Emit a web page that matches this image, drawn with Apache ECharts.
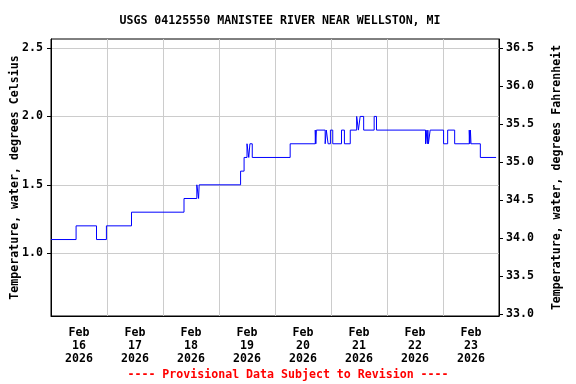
<!DOCTYPE html>
<html>
<head>
<meta charset="utf-8">
<script src="https://cdn.jsdelivr.net/npm/echarts@6/dist/echarts.min.js"></script>
<style>html,body{margin:0;padding:0;background:#fff;}#c{width:576px;height:384px;}</style>
</head>
<body>
<div id="c"></div>
<script>
const titleText = 'USGS 04125550 MANISTEE RIVER NEAR WELLSTON, MI';
const footerText = '---- Provisional Data Subject to Revision ----';
const leftAxisName = 'Temperature, water, degrees Celsius';
const rightAxisName = 'Temperature, water, degrees Fahrenheit';
const celsiusTicks = [1.0, 1.5, 2.0, 2.5];
const fahrenheitTicks = [33.0, 33.5, 34.0, 34.5, 35.0, 35.5, 36.0, 36.5];
const dateLabels = ['2026-02-16 12:00','2026-02-17 12:00','2026-02-18 12:00','2026-02-19 12:00',
  '2026-02-20 12:00','2026-02-21 12:00','2026-02-22 12:00','2026-02-23 12:00'];
const xStart = '2026-02-16 00:00';
const xEnd = '2026-02-24 00:00';
// change points: value holds from this time until the next
const times = [
  '2026-02-16 00:00','2026-02-16 10:45','2026-02-16 19:30','2026-02-16 23:45',
  '2026-02-17 10:30','2026-02-18 09:00','2026-02-18 14:30','2026-02-18 15:15',
  '2026-02-18 15:30','2026-02-19 09:15','2026-02-19 10:45','2026-02-19 12:00',
  '2026-02-19 12:45','2026-02-19 13:15','2026-02-19 14:15','2026-02-20 06:30',
  '2026-02-20 17:15','2026-02-20 17:30','2026-02-20 17:45','2026-02-20 21:30',
  '2026-02-20 22:00','2026-02-20 22:45','2026-02-20 23:45','2026-02-21 00:45',
  '2026-02-21 04:30','2026-02-21 05:45','2026-02-21 08:15','2026-02-21 11:00',
  '2026-02-21 11:45','2026-02-21 12:30','2026-02-21 14:00','2026-02-21 18:30',
  '2026-02-21 19:30','2026-02-22 16:30','2026-02-22 16:45','2026-02-22 17:15',
  '2026-02-22 17:30','2026-02-22 17:45','2026-02-22 18:30','2026-02-23 00:15',
  '2026-02-23 02:00','2026-02-23 05:00','2026-02-23 11:15','2026-02-23 11:30',
  '2026-02-23 11:45','2026-02-23 12:00','2026-02-23 16:00','2026-02-23 22:45'
];
const tempC = [
  1.1,1.2,1.1,1.2,
  1.3,1.4,1.5,1.4,
  1.5,1.6,1.7,1.8,
  1.7,1.8,1.7,1.8,
  1.9,1.8,1.9,1.8,
  1.9,1.8,1.9,1.8,
  1.9,1.8,1.9,2.0,
  1.9,2.0,1.9,2.0,
  1.9,1.8,1.9,1.8,
  1.9,1.8,1.9,1.8,
  1.9,1.8,1.9,1.8,
  1.9,1.8,1.7,1.7
];

function toUTC(s){
  const [d,t] = s.split(' ');
  const [y,m,dd] = d.split('-').map(Number);
  const [hh,mm] = t.split(':').map(Number);
  return Date.UTC(y, m-1, dd, hh, mm);
}
const MONTHS = ['Jan','Feb','Mar','Apr','May','Jun','Jul','Aug','Sep','Oct','Nov','Dec'];
const DAY = 86400000;
const font = '"DejaVu Sans Mono", monospace';
const seriesData = times.map((t,i)=>[toUTC(t), tempC[i]]);
const cMin = 0.541, cMax = 2.566;

const chart = echarts.init(document.getElementById('c'), null, {renderer:'canvas'});
chart.setOption({
  animation:false,
  backgroundColor:'#fff',
  title:{
    text:titleText, left:275, textAlign:'center', top:10,
    textStyle:{fontFamily:font, fontWeight:'bold', fontSize:11.6, color:'#000'}
  },
  graphic:[{
    type:'text', left:'center', top:369,
    style:{text:footerText, x:0, fill:'#ff0000', font:'bold 11.6px "DejaVu Sans Mono", monospace'}
  }],
  grid:{left:51, top:39, width:448, height:277, show:true, borderColor:'#000', borderWidth:1,
    containLabel:false, outerBoundsMode:'none'},
  xAxis:{
    type:'value', min:toUTC(xStart), max:toUTC(xEnd), interval:DAY,
    axisLine:{show:true, lineStyle:{color:'#000'}},
    axisTick:{show:false},
    splitLine:{show:true, lineStyle:{color:'#cccccc', width:1}},
    axisLabel:{
      show:true, customValues:dateLabels.map(toUTC), margin:10, lineHeight:13, hideOverlap:false,
      fontFamily:font, fontWeight:'bold', fontSize:11.6, color:'#000',
      formatter:function(v){
        const d = new Date(v);
        return MONTHS[d.getUTCMonth()] + '\n' + d.getUTCDate() + '\n' + d.getUTCFullYear();
      }
    }
  },
  yAxis:[{
    type:'value', position:'left', min:cMin, max:cMax,
    name:leftAxisName, nameLocation:'middle', nameGap:30, nameMoveOverlap:false,
    nameTextStyle:{fontFamily:font, fontWeight:'bold', fontSize:11.6, color:'#000'},
    axisLine:{show:true, lineStyle:{color:'#000'}},
    axisTick:{show:true, length:4, customValues:celsiusTicks, lineStyle:{color:'#000'}},
    axisLabel:{customValues:celsiusTicks, margin:8, fontFamily:font, fontWeight:'bold', fontSize:11.6, color:'#000',
      formatter:v=>v.toFixed(1)},
    splitLine:{show:true, lineStyle:{color:'#cccccc', width:1}}
  },{
    type:'value', position:'right', min:cMin*1.8+32, max:cMax*1.8+32,
    name:rightAxisName, nameLocation:'middle', nameGap:52, nameMoveOverlap:false,
    nameTextStyle:{fontFamily:font, fontWeight:'bold', fontSize:11.6, color:'#000'},
    axisLine:{show:true, lineStyle:{color:'#000'}},
    axisTick:{show:true, length:4, customValues:fahrenheitTicks, lineStyle:{color:'#000'}},
    axisLabel:{customValues:fahrenheitTicks, margin:7, fontFamily:font, fontWeight:'bold', fontSize:11.6, color:'#000',
      formatter:v=>v.toFixed(1)},
    splitLine:{show:false}
  }],
  series:[{
    type:'line', yAxisIndex:0, data:seriesData, step:'end', showSymbol:false,
    lineStyle:{color:'#0000ff', width:1}, z:3
  }]
});
</script>
</body>
</html>
